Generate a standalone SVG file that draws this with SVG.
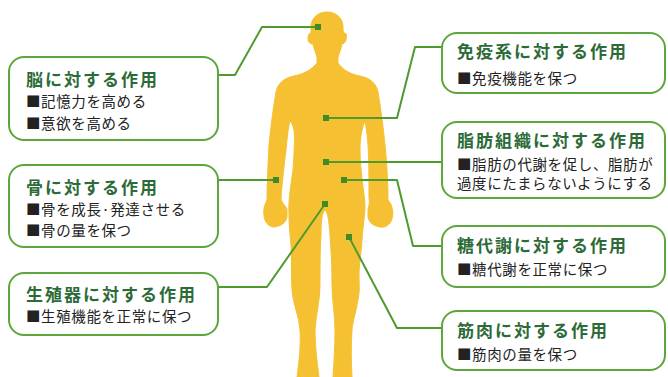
<svg xmlns="http://www.w3.org/2000/svg" width="668" height="377" viewBox="0 0 668 377">
  <style>
    .box { fill: #ffffff; stroke: #5da63d; stroke-width: 2; }
    .ttl { font-family: "Noto Sans CJK JP", "Noto Sans", sans-serif; font-size: 17px; font-weight: bold; fill: #2c6b37; letter-spacing: 2px; }
    .txt { font-family: "Noto Sans CJK JP", "Noto Sans", sans-serif; font-size: 14.5px; fill: #222222; letter-spacing: 0.6px; }
    .lead { fill: none; stroke: #4f9a2e; stroke-width: 2; stroke-linejoin: round; }
    .dot { fill: #3f8b25; }
  </style>

  <rect width="668" height="377" fill="#ffffff"/>

  <!-- human silhouette -->
  <g id="body">
    <path fill="#f5c133" stroke="#f5c133" stroke-width="1" stroke-linejoin="round" d="
      M 327,12
      C 336,12 343,18 343,27
      C 343,30 343,32 344,33
      C 347,33 347,36 346,40
      C 345,43 343,44 342,44
      C 341,49 339,54 338,57
      L 338,63
      C 343,70 350,74 360,76
      C 370,78 376,83 378,92
      C 381,110 383,125 385,145
      C 387,165 388,185 388,200
      C 392,204 394,212 392,219
      C 390,225 385,228 380,227
      C 374,226 369,223 368,217
      L 368,209
      C 369,205 370,203 369,198
      C 369,180 369,160 368,145
      C 367,133 366,126 365,121
      C 362,128 360,138 360,150
      C 360,170 364,190 365,205
      C 365,215 363,225 362,240
      C 361,255 359,265 359,275
      C 359,285 360,290 358,300
      C 356,312 353,320 352,330
      C 351,345 351,360 352,377
      L 333,377
      C 334,362 335,345 335,330
      C 335,315 332,300 332,285
      C 332,265 331,250 330,235
      C 329,222 328,212 325,210
      C 322,212 321,222 321,235
      C 320,250 320,265 320,285
      C 320,300 316,315 315,330
      C 315,345 317,362 319,377
      L 297,377
      C 299,362 301,345 300,330
      C 299,315 293,305 292,290
      C 291,275 292,260 291,245
      C 290,235 289,225 289,215
      C 288,200 291,185 293,170
      C 294,155 295,140 294,130
      C 293,126 292,123 290,121
      C 288,128 287,140 286,150
      C 284,165 282,185 281,198
      C 281,202 285,205 287,209
      L 287,217
      C 286,223 281,226 274,227
      C 269,227 264,222 264,215
      C 263,209 265,204 267,200
      C 267,185 268,165 269,145
      C 271,125 273,110 276,92
      C 278,83 284,78 294,76
      C 304,74 311,70 317,63
      L 317,57
      C 316,54 314,49 313,44
      C 310,44 308,42 308,39
      C 308,35 309,33 311,33
      C 311,31 311,29 311,27
      C 311,18 318,12 327,12 Z"/>
  </g>

  <!-- leader lines from each label to the body -->
  <g id="connectors">
    <polyline class="lead" points="218,75 235,75 262,27 318,27"/>
    <polyline class="lead" points="218,180 276,180"/>
    <polyline class="lead" points="218,287 267,287 325,204"/>
    <polyline class="lead" points="442,47 415,47 397,118 326,118"/>
    <polyline class="lead" points="442,162 326,162"/>
    <polyline class="lead" points="442,246 413,246 397,180 344,180"/>
    <polyline class="lead" points="442,328 397,328 349,237"/>
    <rect class="dot" x="315" y="24" width="6" height="6"/>
    <rect class="dot" x="273" y="177" width="6" height="6"/>
    <rect class="dot" x="322" y="201" width="6" height="6"/>
    <rect class="dot" x="323" y="115" width="6" height="6"/>
    <rect class="dot" x="323" y="159" width="6" height="6"/>
    <rect class="dot" x="341" y="177" width="6" height="6"/>
    <rect class="dot" x="346" y="234" width="6" height="6"/>
  </g>

  <g id="brain">
    <rect class="box" x="9" y="57" width="209" height="83" rx="15"/>
    <text class="ttl" x="26" y="86">脳に対する作用</text>
    <text class="txt" x="26" y="107">■記憶力を高める</text>
    <text class="txt" x="26" y="129">■意欲を高める</text>
  </g>

  <g id="bone">
    <rect class="box" x="9" y="165" width="209" height="82" rx="15"/>
    <text class="ttl" x="26" y="194">骨に対する作用</text>
    <text class="txt" x="26" y="215">■骨を成長·発達させる</text>
    <text class="txt" x="26" y="236">■骨の量を保つ</text>
  </g>

  <g id="reproductive">
    <rect class="box" x="9" y="273" width="209" height="62" rx="15"/>
    <text class="ttl" x="26" y="301">生殖器に対する作用</text>
    <text class="txt" x="26" y="322">■生殖機能を正常に保つ</text>
  </g>

  <g id="immune">
    <rect class="box" x="442" y="33" width="223" height="60" rx="15"/>
    <text class="ttl" x="457" y="58">免疫系に対する作用</text>
    <text class="txt" x="457" y="84">■免疫機能を保つ</text>
  </g>

  <g id="fat">
    <rect class="box" x="442" y="122" width="223" height="76" rx="15"/>
    <text class="ttl" x="457" y="147">脂肪組織に対する作用</text>
    <text class="txt" x="457" y="170">■脂肪の代謝を促し、脂肪が</text>
    <text class="txt" x="457" y="189">過度にたまらないようにする</text>
  </g>

  <g id="glucose">
    <rect class="box" x="442" y="226" width="223" height="61" rx="15"/>
    <text class="ttl" x="457" y="252">糖代謝に対する作用</text>
    <text class="txt" x="457" y="275">■糖代謝を正常に保つ</text>
  </g>

  <g id="muscle">
    <rect class="box" x="442" y="311" width="223" height="59" rx="15"/>
    <text class="ttl" x="457" y="337">筋肉に対する作用</text>
    <text class="txt" x="457" y="360">■筋肉の量を保つ</text>
  </g>
</svg>
